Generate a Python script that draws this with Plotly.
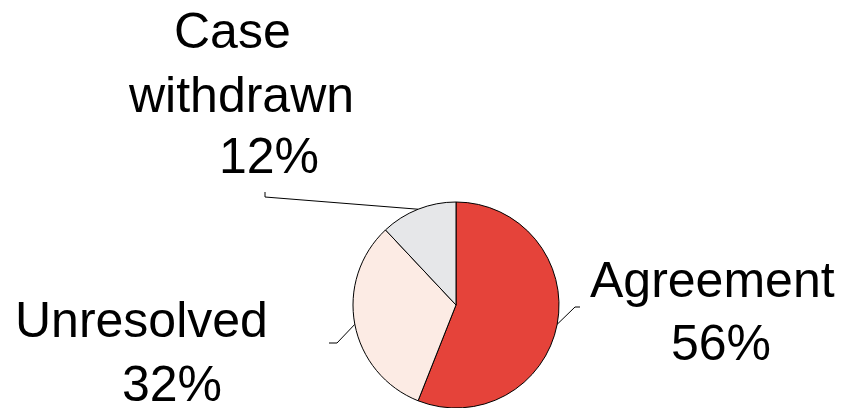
import math
import plotly.graph_objects as go

W, H = 842, 408

labels = ["Agreement", "Unresolved", "Case withdrawn"]
values = [56, 32, 12]
colors = ["#E5433A", "#FCEBE4", "#E6E7E9"]

# label text lines and their positions (pixels: center x, center y)
label_lines = {
    "Agreement": [("Agreement", 712, 280), ("56%", 721, 343)],
    "Unresolved": [("Unresolved", 141, 320), ("32%", 172, 384)],
    "Case withdrawn": [("Case", 233, 31), ("withdrawn", 241, 95), ("12%", 269, 156)],
}
# leader line elbow points (pixels), from pie edge outward
leader_pts = {
    "Agreement": [(575, 307), (580, 307)],
    "Unresolved": [(337, 343), (329, 343)],
    "Case withdrawn": [(265, 197), (265, 192)],
}

# pie geometry
pie_cx, pie_r = 456, 103
dx0, dx1 = (pie_cx - pie_r) / W, (pie_cx + pie_r) / W
dy0, dy1 = 0.0, (2 * pie_r) / H

fig = go.Figure(go.Pie(
    labels=labels, values=values, sort=False, direction="clockwise", rotation=0,
    marker=dict(colors=colors, line=dict(color="black", width=1)),
    textinfo="none", hoverinfo="label+percent", showlegend=False,
    domain=dict(x=[dx0, dx1], y=[dy0, dy1]),
))

cx = (dx0 + dx1) / 2 * W
cy = H - (dy0 + dy1) / 2 * H
r = min((dx1 - dx0) * W, (dy1 - dy0) * H) / 2

def px(x, y):
    return x / W, 1 - y / H

annotations = []
shapes = []
total = sum(values)
cum = 0
for lab, v in zip(labels, values):
    mid = (cum + v / 2) / total * 2 * math.pi
    cum += v
    ex = cx + r * math.sin(mid)
    ey = cy - r * math.cos(mid)
    pts = [(ex, ey)] + leader_pts[lab]
    for (a, b), (c, d) in zip(pts[:-1], pts[1:]):
        x0, y0 = px(a, b)
        x1, y1 = px(c, d)
        shapes.append(dict(type="line", xref="paper", yref="paper",
                           x0=x0, y0=y0, x1=x1, y1=y1,
                           line=dict(color="black", width=1)))
    for txt, tx, ty in label_lines[lab]:
        x, y = px(tx, ty)
        annotations.append(dict(text=txt, x=x, y=y, xref="paper", yref="paper",
                                xanchor="center", yanchor="middle", showarrow=False,
                                font=dict(family="Liberation Sans, Arial", size=50, color="black")))

fig.update_layout(
    width=W, height=H, margin=dict(l=0, r=0, t=0, b=0),
    paper_bgcolor="white", plot_bgcolor="white",
    annotations=annotations, shapes=shapes,
)
fig.write_html("out.html")
